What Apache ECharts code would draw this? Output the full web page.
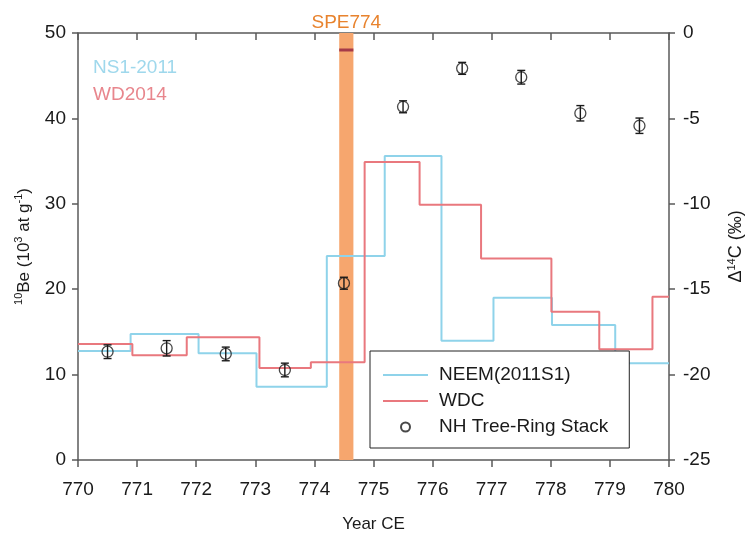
<!DOCTYPE html>
<html>
<head>
<meta charset="utf-8">
<script src="https://cdn.jsdelivr.net/npm/echarts@6/dist/echarts.min.js"></script>
<style>html,body{margin:0;padding:0;background:#fff}#c{width:747px;height:536px}</style>
</head>
<body>
<div id="c"></div>
<script>
// ---- data ----
var xTicks = [770, 771, 772, 773, 774, 775, 776, 777, 778, 779, 780];
var neemEdges  = [770, 770.89, 772.04, 773.02, 774.21, 775.19, 776.15, 777.03, 778.02, 779.09, 780];
var neemLevels = [12.76, 14.75, 12.49, 8.59, 23.9, 35.6, 13.97, 19.0, 15.8, 11.32];
var wdcEdges   = [770, 770.92, 771.84, 773.07, 773.94, 774.85, 775.78, 776.82, 778.01, 778.82, 779.72, 780];
var wdcLevels  = [13.58, 12.26, 14.36, 10.77, 11.44, 34.9, 29.9, 23.6, 17.37, 12.96, 19.12];
var treeYears  = [770.5, 771.5, 772.5, 773.5, 774.5, 775.5, 776.5, 777.5, 778.5, 779.5];
var treeD14C   = [-18.66, -18.46, -18.79, -19.73, -14.65, -4.32, -2.07, -2.59, -4.70, -5.43];
var treeErr    = [0.4, 0.45, 0.4, 0.4, 0.35, 0.35, 0.35, 0.4, 0.45, 0.45];
var speBand    = [774.42, 774.66];
var speMarkLevel = 48;

function steps(edges, levels) {
  var out = [];
  for (var i = 0; i < levels.length; i++) {
    out.push([edges[i], levels[i]]);
    out.push([edges[i + 1], levels[i]]);
  }
  return out;
}
var treePts = treeYears.map(function (x, i) { return [x, treeD14C[i]]; });
var treeBars = treeYears.map(function (x, i) { return [x, treeD14C[i] - treeErr[i], treeD14C[i] + treeErr[i]]; });

var FONT = 'Liberation Sans, Arial, sans-serif';
var axisColor = '#5a5a5a';
var txt = '#1a1a1a';
var blue = '#8fd3ea';
var red = '#e9787e';

var chart = echarts.init(document.getElementById('c'), null, {renderer: 'canvas'});
chart.setOption({
  animation: false,
  textStyle: {fontFamily: FONT},
  grid: {left: 78, right: 78, top: 33, bottom: 76, containLabel: false, outerBoundsMode: 'none'},
  xAxis: [{
    type: 'value', min: 770, max: 780, interval: 1, position: 'bottom',
    name: 'Year CE', nameLocation: 'middle', nameGap: 56,
    nameTextStyle: {fontSize: 17, color: txt, fontFamily: FONT},
    axisLine: {show: true, lineStyle: {color: axisColor, width: 1.5}},
    axisTick: {show: true, inside: false, length: 7, lineStyle: {color: axisColor, width: 1.5}},
    axisLabel: {fontSize: 19, color: txt, margin: 20, fontFamily: FONT},
    splitLine: {show: false}
  }, {
    type: 'value', min: 770, max: 780, interval: 1, position: 'top',
    axisLine: {show: true, lineStyle: {color: axisColor, width: 1.5}},
    axisTick: {show: true, inside: true, length: 7, lineStyle: {color: axisColor, width: 1.5}},
    axisLabel: {show: false},
    splitLine: {show: false}
  }],
  yAxis: [{
    type: 'value', min: 0, max: 50, interval: 10, position: 'left',
    name: '{sup|10}Be (10{sup|3} at g{sup|-1})', nameLocation: 'middle', nameGap: 44, nameRotate: 90,
    nameTextStyle: {fontSize: 17, color: txt, fontFamily: FONT, lineHeight: 20,
      rich: {sup: {fontSize: 11, verticalAlign: 'top', lineHeight: 20, fontFamily: FONT, color: txt}}},
    axisLine: {show: true, lineStyle: {color: axisColor, width: 1.5}},
    axisTick: {show: true, inside: false, length: 6, lineStyle: {color: axisColor, width: 1.5}},
    axisLabel: {fontSize: 19, color: txt, margin: 12, fontFamily: FONT},
    splitLine: {show: false}
  }, {
    type: 'value', min: -25, max: 0, interval: 5, position: 'right',
    name: 'Δ{sup|14}C (‰)', nameLocation: 'middle', nameGap: 57, nameRotate: 90,
    nameTextStyle: {fontSize: 18, color: txt, fontFamily: FONT, lineHeight: 20,
      rich: {sup: {fontSize: 11, verticalAlign: 'top', lineHeight: 20, fontFamily: FONT, color: txt}}},
    axisLine: {show: true, lineStyle: {color: axisColor, width: 1.5}},
    axisTick: {show: true, inside: false, length: 6, lineStyle: {color: axisColor, width: 1.5}},
    axisLabel: {fontSize: 19, color: txt, margin: 14, fontFamily: FONT},
    splitLine: {show: false}
  }],
  legend: {
    orient: 'vertical', left: 370, top: 351,
    padding: [14, 21, 11, 12], itemGap: 6, itemWidth: 45, itemHeight: 9,
    backgroundColor: '#fff', borderColor: '#222', borderWidth: 1, borderRadius: 0,
    textStyle: {fontSize: 19, color: txt, fontFamily: FONT, lineHeight: 20, padding: [0, 0, 0, 6]},
    data: [
      {name: 'NEEM(2011S1)', itemStyle: {opacity: 0}},
      {name: 'WDC', itemStyle: {opacity: 0}},
      'NH Tree-Ring Stack'
    ]
  },
  graphic: [
    {type: 'text', left: 93, top: 58, style: {text: 'NS1-2011', fontSize: 19, fill: '#9fd8ec', fontFamily: FONT}},
    {type: 'text', left: 93, top: 85, style: {text: 'WD2014', fontSize: 19, fill: '#e8868d', fontFamily: FONT}}
  ],
  series: [
    {
      name: 'SPE band', type: 'line', data: [], xAxisIndex: 0, yAxisIndex: 0, silent: true, z: 1,
      markArea: {
        silent: true,
        itemStyle: {color: '#f6a66e'},
        label: {show: true, position: 'top', distance: 1, formatter: 'SPE774', fontSize: 19, color: '#e8832e', fontFamily: FONT},
        data: [[{xAxis: speBand[0], yAxis: 0}, {xAxis: speBand[1], yAxis: 50}]]
      }
    },
    {
      name: 'SPE mark', type: 'line', xAxisIndex: 0, yAxisIndex: 0, silent: true, z: 2,
      data: [[speBand[0], speMarkLevel], [speBand[1], speMarkLevel]],
      symbol: 'none', lineStyle: {color: '#a63a48', width: 3}
    },
    {
      name: 'NEEM(2011S1)', type: 'line', xAxisIndex: 0, yAxisIndex: 0, z: 3,
      data: steps(neemEdges, neemLevels), symbol: 'none', showSymbol: false,
      lineStyle: {color: blue, width: 2}, itemStyle: {color: blue}
    },
    {
      name: 'WDC', type: 'line', xAxisIndex: 0, yAxisIndex: 0, z: 3,
      data: steps(wdcEdges, wdcLevels), symbol: 'none', showSymbol: false,
      lineStyle: {color: red, width: 2}, itemStyle: {color: red}
    },
    {
      name: 'errbars', type: 'custom', xAxisIndex: 0, yAxisIndex: 1, z: 4, silent: true,
      data: treeBars,
      renderItem: function (params, api) {
        var x = api.value(0);
        var lo = api.coord([x, api.value(1)]);
        var hi = api.coord([x, api.value(2)]);
        var w = 4;
        var st = {stroke: '#1a1a1a', lineWidth: 1.4};
        return {type: 'group', children: [
          {type: 'line', shape: {x1: lo[0], y1: lo[1], x2: hi[0], y2: hi[1]}, style: st},
          {type: 'line', shape: {x1: lo[0] - w, y1: lo[1], x2: lo[0] + w, y2: lo[1]}, style: st},
          {type: 'line', shape: {x1: hi[0] - w, y1: hi[1], x2: hi[0] + w, y2: hi[1]}, style: st}
        ]};
      }
    },
    {
      name: 'NH Tree-Ring Stack', type: 'scatter', xAxisIndex: 0, yAxisIndex: 1, z: 5,
      data: treePts, symbol: 'circle', symbolSize: 11,
      itemStyle: {color: 'rgba(0,0,0,0)', borderColor: '#1a1a1a', borderWidth: 1.3}
    }
  ]
});
</script>
</body>
</html>
